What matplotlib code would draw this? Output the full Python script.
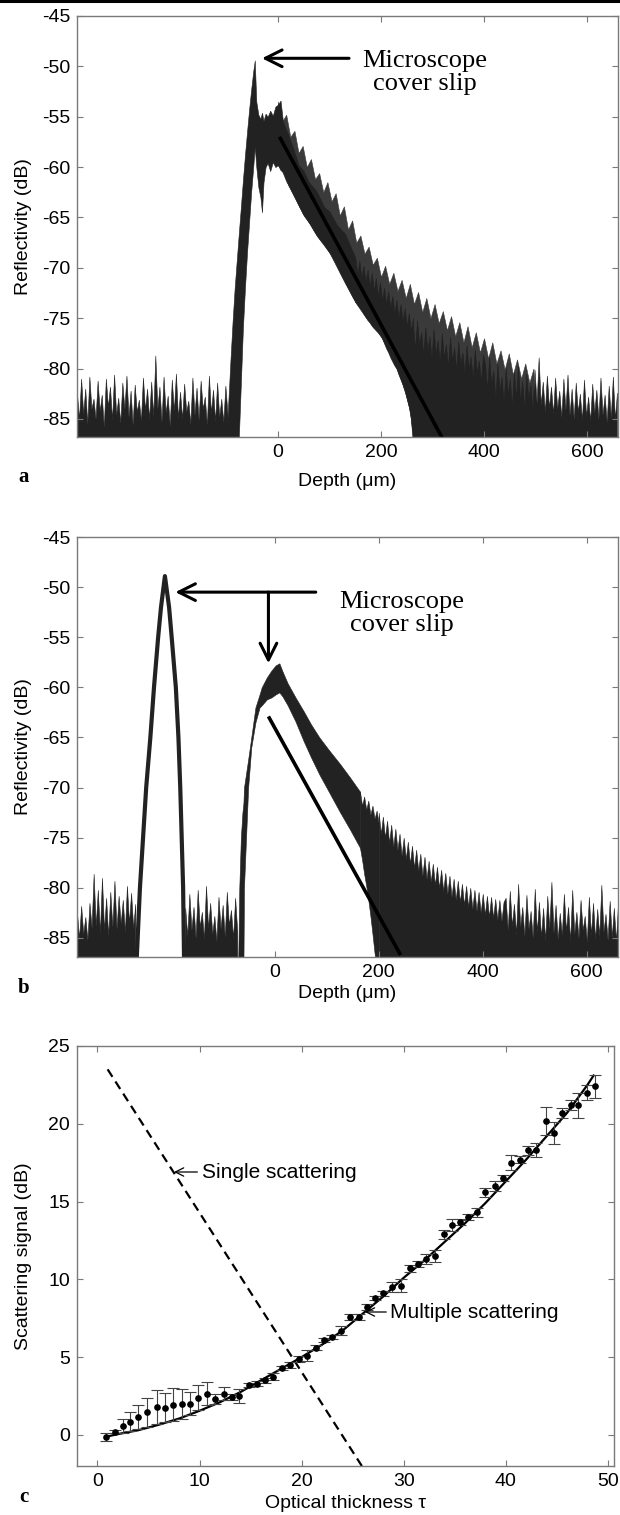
import numpy as np
import matplotlib
matplotlib.use("Agg")
import matplotlib.pyplot as plt
from matplotlib.lines import Line2D

plt.rcParams['font.family'] = ['Liberation Sans', 'DejaVu Sans']
plt.rcParams['axes.unicode_minus'] = False

# ---------------- panel a : reflectivity vs depth ----------------
a_noise_l_x = np.arange(-390, -97, 4)
a_noise_l = [-82.5, -85.0, -81.0, -84.5, -82.0, -85.5, -80.8, -84.0, -83.0, -85.0,
             -81.2, -84.2, -82.6, -85.8, -81.0, -83.8, -81.8, -85.1, -80.6, -84.6,
             -82.9, -85.4, -81.4, -84.0, -80.7, -84.8, -82.2, -85.6, -81.6, -84.3,
             -83.1, -85.2, -80.9, -84.1, -82.0, -85.0, -81.3, -84.7, -78.7, -84.0,
             -81.8, -85.3, -80.8, -84.4, -82.7, -85.7, -81.1, -84.2, -80.5, -84.9,
             -82.3, -85.0, -81.5, -84.3, -83.2, -85.5, -80.9, -84.6, -81.9, -85.1,
             -81.2, -84.0, -82.8, -85.6, -80.7, -84.4, -82.1, -85.2, -81.4, -84.8,
             -83.0, -85.3, -81.7, -84.5]

# rising edge, cover-slip spike and start of the decay (dense core of the traces)
a_env_x = [-100, -96, -92, -88, -84, -80, -76, -72, -68, -64, -60, -56, -52, -48, -45,
           -42, -38, -34, -31, -28, -24, -20, -15, -10, -5, 0, 5, 10, 20, 30, 40, 50,
           60, 75, 90, 100, 115, 130, 150]
a_env_hi = [-87, -83, -79, -75.3, -72, -69.3, -66.6, -64, -61.3, -58.8, -56.5, -54.3,
            -52.3, -50.5, -49.4, -53.5, -54.8, -55.2, -54.6, -55.4, -54.7, -55, -54.4,
            -54.9, -54, -53.8, -53.4, -55.6, -56.8, -58.2, -59.8, -60.4, -61.5, -62.4,
            -64, -64.4, -65.8, -66.6, -69]
a_env_lo = [-90, -90, -90, -90, -90, -90, -87, -81.5, -76, -72, -68.5, -65.5, -62.5,
            -60, -58, -60, -62, -63, -64.5, -61.5, -60, -59.6, -60.4, -59.5, -60, -59.8,
            -60.3, -60.5, -61.8, -62.8, -63.8, -64.8, -65.5, -66.8, -67.8, -68.5, -70,
            -71.5, -73.4]

a_mid_x = np.arange(150, 263, 4)
a_mid_hi = [-69.0, -70.6, -69.3, -71.0, -69.8, -71.4, -70.2, -71.9, -70.5, -72.3,
            -71.0, -72.8, -71.4, -73.2, -72.0, -73.6, -72.3, -74.0, -72.8, -74.5,
            -73.2, -74.9, -73.6, -75.3, -74.0, -75.8, -74.5, -76.2, -75.0]
a_mid_lo = [-73.4, -73.7, -74.0, -74.3, -74.6, -74.9, -75.2, -75.4, -75.7, -75.9,
            -76.2, -76.4, -76.7, -77.0, -77.5, -78.0, -78.4, -78.9, -79.3, -79.7,
            -80.0, -80.6, -81.1, -81.6, -82.2, -83.0, -83.8, -85.0, -87.5]

a_tail_x = np.arange(262, 661, 4)
a_tail_1 = [-75.6, -78.0, -75.2, -77.6, -76.4, -78.6, -75.9, -78.2, -76.8, -79.0,
            -76.1, -78.5, -77.2, -79.4, -76.5, -78.9, -77.6, -79.8, -76.9, -79.2,
            -77.9, -80.1, -77.3, -79.6, -78.4, -80.5, -77.7, -80.0, -78.8, -81.0,
            -78.1, -80.4, -79.2, -81.3, -78.6]
a_tail_2 = [-79.6, -82.0, -78.8, -81.5, -80.2, -83.0, -79.5, -82.2, -80.8, -83.5,
            -79.9, -82.6, -81.0, -83.8, -80.3, -82.9, -79.7, -83.2, -81.2, -84.0,
            -80.5, -83.0, -81.6, -84.2, -80.1, -83.4, -78.9, -83.6, -81.3, -84.3,
            -80.7, -83.9, -81.8, -84.5, -80.9, -84.0, -82.2, -84.8, -81.0, -84.1,
            -80.6, -84.6, -82.0, -85.0, -81.4, -84.3, -82.5, -85.1, -81.1, -84.7,
            -82.8, -85.2, -81.5, -84.4, -82.1, -85.0, -80.9, -84.6, -82.6, -85.3,
            -81.7, -84.9, -80.8, -85.0, -82.4]

# sparser traces above the core of the decay
a_halo_x = np.arange(0, 497, 8)
a_halo_hi = [-53.5, -55.5, -54.8, -57.0, -56.4, -58.6, -57.9, -60.0, -59.2, -61.2,
             -60.6, -62.5, -61.5, -63.4, -62.6, -64.8, -63.9, -66.2, -65.3, -67.5,
             -66.8, -68.6, -67.9, -69.7, -69.0, -70.9, -69.8, -71.6, -70.5, -72.3,
             -71.2, -73.0, -71.6, -73.6, -72.4, -74.4, -73.0, -75.0, -73.6, -75.5,
             -74.3, -76.2, -74.8, -76.8, -75.4, -77.4, -75.8, -77.9, -76.4, -78.4,
             -77.0, -79.0, -77.4, -79.5, -78.2, -80.1, -78.5, -80.6, -79.1, -81.0,
             -79.5, -81.4, -80.0]
a_halo_lo = [-59.8, -60.4, -61.4, -62.1, -62.9, -63.8, -64.6, -65.2, -65.8, -66.5,
             -67.1, -67.6, -68.2, -68.8, -69.5, -70.4, -71.2, -72.0, -72.8, -73.5,
             -74.0, -74.7, -75.3, -75.9, -76.3, -76.8, -77.6, -78.4, -79.3, -80.2,
             -81.3, -82.6, -84.2, -87.5, -90, -90, -90, -90, -90, -90, -90, -90, -90,
             -90, -90, -90, -90, -90, -90, -90, -90, -90, -90, -90, -90, -90, -90, -90,
             -90, -90, -90, -90, -90]

a_fit_x = [3, 320]
a_fit_y = [-57.0, -87.0]

# ---------------- panel b ----------------
b_noise_l_x = np.arange(-380, -267, 4)
b_noise_l = [-82.5, -85.0, -81.8, -84.6, -82.9, -85.2, -81.5, -84.0, -78.6, -83.8,
             -80.2, -84.5, -79.0, -84.2, -81.0, -84.8, -80.4, -83.9, -79.3, -84.1,
             -80.8, -83.6, -81.2, -84.4, -79.8, -83.5, -80.5, -84.0, -81.6]

b_peak_x = [-266, -259, -247, -239, -232, -224, -218.5, -211, -203, -198, -190, -185,
            -181.5, -176, -174]
b_peak_y = [-88, -80, -70, -65, -60, -55, -52, -48.9, -52, -55, -60, -65, -70, -80, -88]

b_noise_m_x = np.arange(-172, -71, 4)
b_noise_m = [-82.0, -84.8, -80.6, -84.2, -81.9, -85.0, -80.2, -83.9, -82.4, -85.1,
             -79.8, -84.0, -81.5, -84.6, -82.8, -85.3, -80.9, -84.1, -81.7, -84.9,
             -80.4, -83.7, -82.2, -85.0, -81.0, -84.3]

b_env_x = [-72, -70, -68, -65, -62, -60, -59, -55, -51, -45, -37, -29, -25, -15, -6, 2,
           9, 15, 25, 40, 56, 70, 86, 105, 125, 145, 164]
b_env_hi = [-88, -87, -80, -75, -72.5, -71.5, -70, -68.6, -67.2, -65, -62, -60.7, -60,
            -59, -58.3, -57.8, -57.6, -58.4, -59.6, -61.0, -62.4, -63.7, -65.0, -66.3,
            -67.6, -69.0, -70.4]
b_env_lo = [-90, -90, -90, -90, -90, -87.5, -80, -75, -70, -66, -63.5, -62, -61.8,
            -61.2, -61, -60.7, -60.5, -60.9, -61.8, -63.4, -65.4, -67, -68.7, -70.5,
            -72.4, -74.2, -76]

b_mid_x = np.arange(164, 201, 4)
b_mid_hi = [-70.4, -71.8, -70.9, -72.2, -71.3, -72.7, -71.8, -73.1, -72.3, -73.6]
b_mid_lo = [-76.0, -77.2, -78.6, -79.8, -81.2, -82.8, -84.6, -86.5, -88.5, -90.0]

b_tail_x = np.arange(200, 661, 4)
b_tail_1 = [-72.5, -74.6, -72.9, -75.0, -73.3, -75.5, -73.7, -75.9, -74.1, -76.2,
            -74.6, -76.8, -75.0, -77.1, -75.4, -77.6, -75.8, -78.0, -76.2, -78.3,
            -76.6, -78.8, -76.9, -79.1, -77.3, -79.4, -77.6, -79.7, -77.9, -80.0,
            -78.2, -80.3, -78.5, -80.6, -78.8, -80.9, -79.1, -81.2, -79.3, -81.4,
            -79.6, -81.7, -79.8, -81.9, -80.0, -82.1, -80.2, -82.3, -80.4, -82.5,
            -80.6, -82.7, -80.8, -82.9, -80.9, -83.0, -81.1, -83.2, -81.2, -83.3,
            -81.4]
b_tail_2 = [-81.0, -84.2, -80.3, -83.8, -81.6, -84.6, -79.6, -83.9, -81.9, -84.8,
            -80.7, -84.1, -82.3, -85.0, -80.1, -84.4, -81.4, -84.9, -82.0, -85.2,
            -80.8, -84.0, -79.4, -84.5, -81.7, -85.1, -82.5, -84.7, -80.6, -84.3,
            -81.9, -85.3, -80.2, -84.6, -82.4, -85.0, -81.2, -84.2, -82.8, -85.4,
            -80.9, -84.7, -81.5, -85.1, -82.1, -84.8, -79.7, -84.4, -82.6, -85.2,
            -81.3, -84.9, -82.0, -85.3, -81.6]

b_fit_x = [-12, 242]
b_fit_y = [-62.9, -86.7]

depth_ticks = [0, 200, 400, 600]
refl_ticks = [-85, -80, -75, -70, -65, -60, -55, -50, -45]

# ---------------- panel c : scattering signal ----------------
c_x = [0.8, 1.7, 2.5, 3.2, 4.0, 4.9, 5.8, 6.6, 7.4, 8.3, 9.1, 9.9, 10.7, 11.5, 12.4,
       13.2, 13.9, 14.8, 15.6, 16.4, 17.2, 18.1, 18.9, 19.7, 20.5, 21.4, 22.2, 23.0,
       23.9, 24.7, 25.6, 26.4, 27.2, 28.0, 28.9, 29.7, 30.6, 31.4, 32.2, 33.1, 33.9,
       34.7, 35.5, 36.3, 37.2, 38.0, 38.9, 39.7, 40.5, 41.4, 42.2, 43.0, 43.9, 44.7,
       45.5, 46.4, 47.1, 48.0, 48.75]
c_y = [-0.15, 0.2, 0.6, 0.85, 1.15, 1.45, 1.8, 1.75, 1.95, 2.0, 2.0, 2.4, 2.65, 2.3,
       2.65, 2.45, 2.5, 3.2, 3.3, 3.5, 3.75, 4.3, 4.5, 4.9, 5.1, 5.6, 6.1, 6.3, 6.7, 7.6,
       7.6, 8.2, 8.8, 9.1, 9.5, 9.6, 10.7, 11.0, 11.3, 11.5, 12.9, 13.5, 13.7, 14.0,
       14.3, 15.6, 16.0, 16.5, 17.5, 17.7, 18.3, 18.3, 20.2, 19.4, 20.7, 21.2, 21.2,
       22.0, 22.4]
c_err = [0.25, 0.1, 0.45, 0.6, 0.8, 0.95, 1.1, 0.95, 1.05, 0.95, 0.75, 0.8, 0.75, 0.3,
         0.4, 0.2, 0.45, 0.15, 0.15, 0.15, 0.25, 0.15, 0.2, 0.2, 0.35, 0.15, 0.15, 0.15,
         0.3, 0.2, 0.2, 0.2, 0.15, 0.15, 0.3, 0.4, 0.2, 0.2, 0.3, 0.4, 0.3, 0.4, 0.2,
         0.2, 0.3, 0.3, 0.3, 0.2, 0.5, 0.2, 0.3, 0.45, 0.9, 0.7, 0.3, 0.3, 0.8, 0.5, 0.75]

multi_x = [1, 2, 4, 6, 8, 10, 12, 14, 16, 18, 20, 22, 24, 26, 28, 30, 32, 34, 36, 38,
           40, 42, 44, 46, 48, 48.6]
multi_y = [-0.1, 0.05, 0.3, 0.65, 1.05, 1.55, 2.1, 2.75, 3.5, 4.25, 5.0, 5.8, 6.7, 7.8,
           8.9, 10.1, 11.2, 12.4, 13.6, 14.9, 16.3, 17.7, 19.2, 20.7, 22.5, 23.1]
single_x = [1.0, 26.0]
single_y = [23.5, -2.1]

# ---------------- figure ----------------
W, H = 620, 1515
fig = plt.figure(figsize=(W / 100, H / 100), dpi=100)
trace = '#222222'
halo = '#3a3a3a'
spine_c = '#7a7a7a'


def add_ax(left, top, right, bottom):
    return fig.add_axes([left / W, 1 - bottom / H, (right - left) / W, (bottom - top) / H])


def style(ax, xlab, ylab, xlab_px, bottom_px, height_px, width_px):
    for s in ax.spines.values():
        s.set_color(spine_c)
        s.set_linewidth(1.0)
    ax.tick_params(direction='in', top=True, right=True, length=4, width=0.8,
                   color=spine_c, labelsize=14, pad=5)
    ax.set_xlabel(xlab, fontsize=14)
    ax.set_ylabel(ylab, fontsize=14)
    ax.xaxis.set_label_coords(0.5, -(xlab_px - bottom_px) / height_px)
    ax.xaxis.label.set_va('center')
    ax.yaxis.set_label_coords(-(77 - 24) / width_px, 0.5)
    ax.yaxis.label.set_va('center')


arrow_kw = dict(arrowstyle='->,head_length=0.6,head_width=0.3', lw=2.2, color='black',
                mutation_scale=20, shrinkA=0, shrinkB=0)

# panel a
ax = add_ax(77, 16, 618, 437)
ax.fill_between(a_halo_x, a_halo_lo, a_halo_hi, color=halo, lw=0.4)
ax.fill_between(a_noise_l_x, -90, a_noise_l, color=trace, lw=0.4)
ax.fill_between(a_env_x, a_env_lo, a_env_hi, color=trace, lw=0.4)
ax.fill_between(a_mid_x, a_mid_lo, a_mid_hi, color=trace, lw=0.4)
ax.fill_between(a_tail_x, -90, a_tail_1 + a_tail_2, color=trace, lw=0.4)
ax.plot(a_fit_x, a_fit_y, color='black', lw=2.6, solid_capstyle='butt')
ax.set_xlim(-390, 660)
ax.set_ylim(-86.8, -45)
ax.set_xticks(depth_ticks)
ax.set_yticks(refl_ticks)
ax.annotate('', xy=(-31, -49.2), xytext=(138, -49.2), arrowprops=arrow_kw)
ax.text(285, -50.6, 'Microscope\ncover slip', family=['Liberation Serif'],
        fontsize=19, ha='center', va='center', linespacing=1.05)
style(ax, 'Depth (μm)', 'Reflectivity (dB)', 481, 437, 421, 541)
fig.text(24 / W, 1 - 477 / H, 'a', family=['Liberation Serif'], fontweight='bold',
         fontsize=15, ha='center', va='center')

# panel b
ax = add_ax(77, 537, 618, 957)
ax.fill_between(b_noise_l_x, -90, b_noise_l, color=trace, lw=0.4)
ax.plot(b_peak_x, b_peak_y, color=trace, lw=3.0)
ax.fill_between(b_noise_m_x, -90, b_noise_m, color=trace, lw=0.4)
ax.fill_between(b_env_x, b_env_lo, b_env_hi, color=trace, lw=0.4)
ax.fill_between(b_mid_x, b_mid_lo, b_mid_hi, color=trace, lw=0.4)
ax.fill_between(b_tail_x, -90, b_tail_1 + b_tail_2, color=trace, lw=0.4)
ax.plot(b_fit_x, b_fit_y, color='black', lw=2.6, solid_capstyle='butt')
ax.set_xlim(-380, 660)
ax.set_ylim(-86.9, -45)
ax.set_xticks(depth_ticks)
ax.set_yticks(refl_ticks)
ax.annotate('', xy=(-191, -50.5), xytext=(79, -50.5), arrowprops=arrow_kw)
ax.annotate('', xy=(-12, -57.6), xytext=(-12, -50.5), arrowprops=arrow_kw)
ax.text(245, -52.6, 'Microscope\ncover slip', family=['Liberation Serif'],
        fontsize=19, ha='center', va='center', linespacing=1.05)
style(ax, 'Depth (μm)', 'Reflectivity (dB)', 993, 957, 420, 541)
fig.text(24 / W, 1 - 988 / H, 'b', family=['Liberation Serif'], fontweight='bold',
         fontsize=15, ha='center', va='center')

# panel c
ax = add_ax(77, 1046, 614, 1466)
ax.plot(single_x, single_y, color='black', lw=1.6, ls=(0, (4, 2.5)))
ax.plot(multi_x, multi_y, color='black', lw=1.6)
ax.errorbar(c_x, c_y, yerr=c_err, fmt='o', color='black', ms=3.8, ecolor='#444444',
            elinewidth=0.8, capsize=4.5, capthick=0.8)
ax.set_xlim(-2, 50.6)
ax.set_ylim(-2, 25)
ax.set_xticks([0, 10, 20, 30, 40, 50])
ax.set_yticks([0, 5, 10, 15, 20, 25])
thin = dict(arrowstyle='->', lw=0.9, color='black', shrinkA=1, shrinkB=0)
ax.annotate('Single scattering', xy=(7.5, 16.9), xytext=(10.2, 16.9), fontsize=15,
            va='center', ha='left', arrowprops=thin)
ax.annotate('Multiple scattering', xy=(26.2, 7.9), xytext=(28.7, 7.9), fontsize=15,
            va='center', ha='left', arrowprops=thin)
style(ax, 'Optical thickness τ', 'Scattering signal (dB)', 1504, 1466, 420, 537)
fig.text(24 / W, 1 - 1497 / H, 'c', family=['Liberation Serif'], fontweight='bold',
         fontsize=15, ha='center', va='center')

fig.add_artist(Line2D([0, 1], [1 - 1.2 / H, 1 - 1.2 / H], transform=fig.transFigure,
                      color='black', lw=2.2))

fig.savefig('out.png', dpi=100)
